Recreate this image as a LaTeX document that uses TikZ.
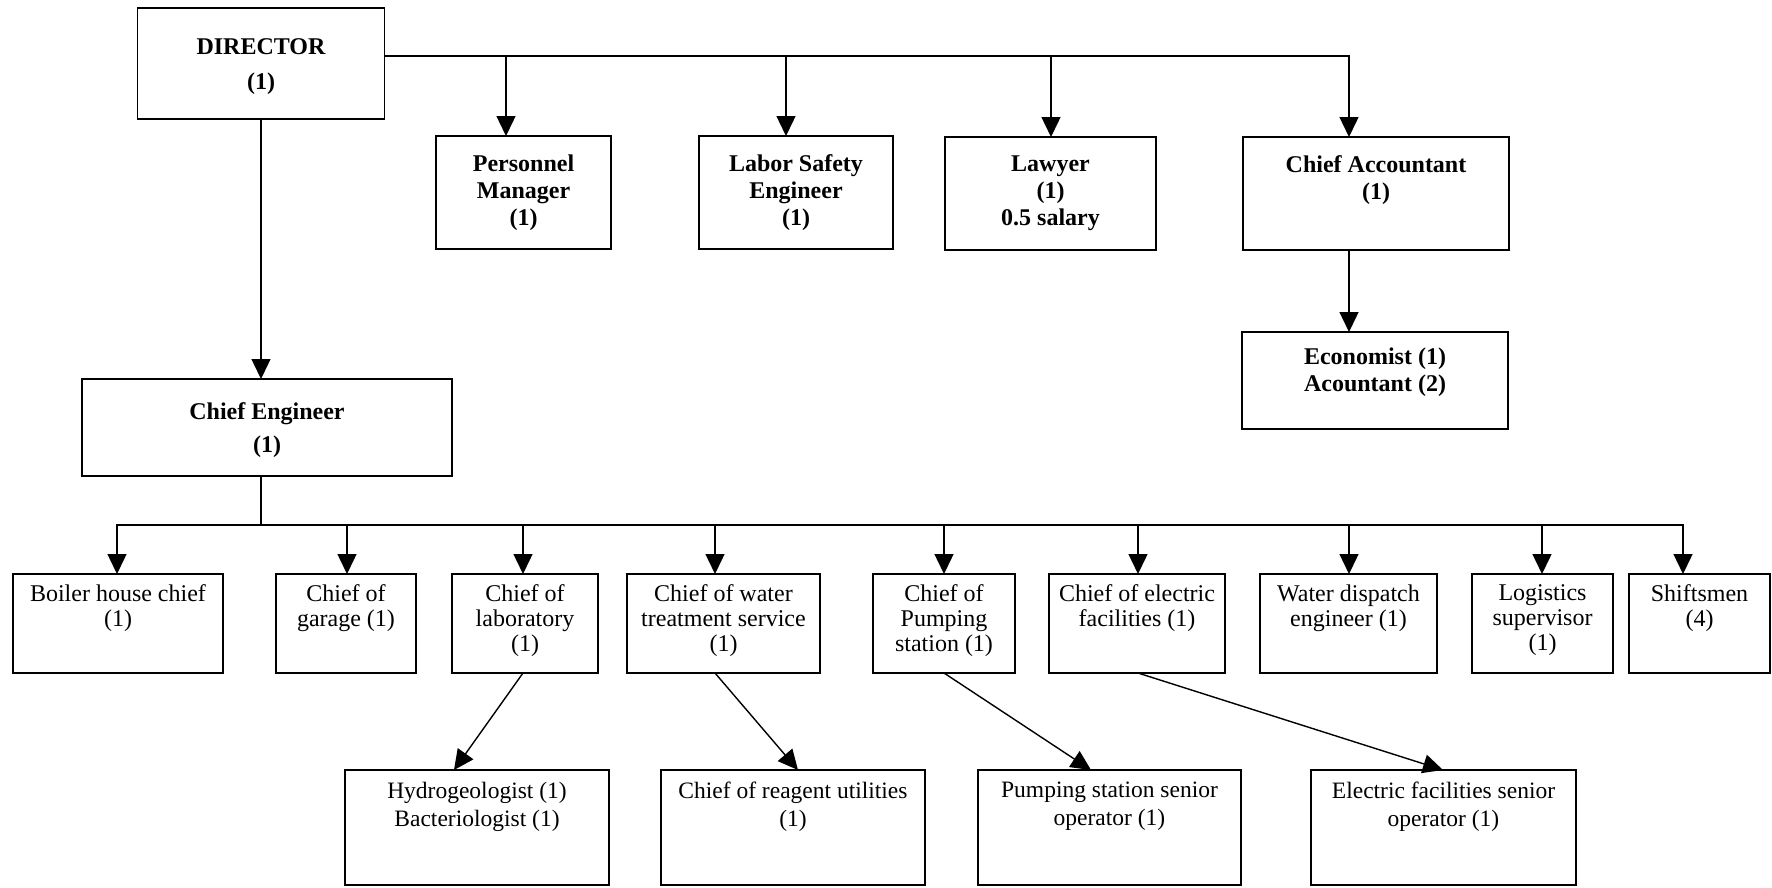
\documentclass[tikz,border=0pt]{standalone}
\usepackage{fontspec}
\setmainfont{Liberation Serif}
\usetikzlibrary{arrows.meta}

% box of fixed size, text set from the top
\newcommand{\postcell}[4]{\parbox[c][#2pt][t]{#1pt}{\centering\vspace*{#3pt}#4}}

\begin{document}
\begin{tikzpicture}[x=1pt, y=-1pt,
	post/.style={draw, line width=1.6pt, inner sep=0pt, outer sep=0pt, anchor=north west},
	head/.style={post, font=\bfseries\fontsize{24}{27}\selectfont},
	staff/.style={post, font=\fontsize{24}{25}\selectfont},
	sub/.style={post, font=\fontsize{23.5}{28}\selectfont},
	wire/.style={line width=1.4pt},
	link/.style={wire, -{Triangle[length=20pt,width=19pt]}},
	links/.style={wire, {Triangle[length=20pt,width=19pt]}-{Triangle[length=20pt,width=19pt]}}]
				\useasboundingbox (0,0) rectangle (1772,887);
				%
				\node [head] (dir)   at (137.5,8)  {\postcell{247}{111}{31}{DIRECTOR\\[8pt](1)}};
				\node [head] (pm)    at (436,136)  {\postcell{175}{113}{19}{Personnel\\Manager\\(1)}};
				\node [head] (lse)   at (699,136)  {\postcell{194}{113}{19}{Labor Safety\\Engineer\\(1)}};
				\node [head] (law)   at (945,137)  {\postcell{211}{113}{19}{Lawyer\\(1)\\0.5 salary}};
				\node [head] (ca)    at (1243,137) {\postcell{266}{113}{19}{Chief Accountant\\(1)}};
				\node [head] (econ)  at (1242,332) {\postcell{266}{97}{16}{Economist (1)\\Acountant (2)}};
				\node [head] (ce)    at (82,379)   {\postcell{370}{97}{24}{Chief Engineer\\[6pt](1)}};
				%
				\node [staff] (boiler) at (13,574)   {\postcell{210}{99}{11}{Boiler house chief\\(1)}};
				\node [staff] (garage) at (276,574)  {\postcell{140}{99}{11}{Chief of\\garage (1)}};
				\node [staff] (lab)    at (452,574)  {\postcell{146}{99}{11}{Chief of\\laboratory\\(1)}};
				\node [staff] (water)  at (627,574)  {\postcell{193}{99}{11}{Chief of water\\treatment service\\(1)}};
				\node [staff] (pump)   at (873,574)  {\postcell{142}{99}{11}{Chief of\\Pumping\\station (1)}};
				\node [staff] (elec)   at (1049,574) {\postcell{176}{99}{11}{Chief of electric\\facilities (1)}};
				\node [staff] (disp)   at (1260,574) {\postcell{177}{99}{11}{Water dispatch\\engineer (1)}};
				\node [staff] (logi)   at (1472,574) {\postcell{141}{99}{11}{Logistics\\supervisor\\(1)}};
				\node [staff] (shift)  at (1629,574) {\postcell{141}{99}{11}{Shiftsmen\\(4)}};
				%
				\node [sub] (hydro)   at (345,770)  {\postcell{264}{115}{12}{Hydrogeologist (1)\\Bacteriologist (1)}};
				\node [sub] (reagent) at (661,770)  {\postcell{264}{115}{12}{Chief of reagent utilities\\(1)}};
				\node [sub] (pumpop)  at (978,770)  {\postcell{263}{115}{12}{Pumping station senior\\operator (1)}};
				\node [sub] (elecop)  at (1311,770) {\postcell{265}{115}{12}{Electric facilities senior\\operator (1)}};
				%
				% director level
				\foreach \n/\x in {pm/506, lse/786, law/1051, ca/1349}
					\coordinate (t\n) at (\x,56);
				\draw [link] (dir.east |- tpm) -- (tca) -- (tca |- ca.north);
				\foreach \n in {pm, lse, law}
					\draw [link] (t\n) -- (t\n |- \n.north);
				\draw [link] (tca |- ca.south) -- (tca |- econ.north);
				\draw [link] (dir.south) -- (dir.south |- ce.north);
				%
				% chief engineer level
				\foreach \n/\x in {boiler/117, garage/347, lab/523, water/715, pump/944, elec/1138, disp/1349, logi/1542, shift/1683}
					\coordinate (t\n) at (\x,525);
				\draw [wire] (dir.south |- ce.south) -- (dir.south |- tboiler);
				\draw [links] (tboiler |- boiler.north) -- (tboiler) -- (tshift) -- (tshift |- shift.north);
				\foreach \n in {garage, lab, water, pump, elec, disp, logi}
					\draw [link] (t\n) -- (t\n |- \n.north);
				%
				\draw [link] (tlab |- lab.south)     -- ([xshift=109pt]hydro.north west);
				\draw [link] (twater |- water.south) -- ([xshift=137pt]reagent.north west);
				\draw [link] (tpump |- pump.south)   -- ([xshift=113pt]pumpop.north west);
				\draw [link] (telec |- elec.south)   -- ([xshift=132pt]elecop.north west);
			\end{tikzpicture}
\end{document}
